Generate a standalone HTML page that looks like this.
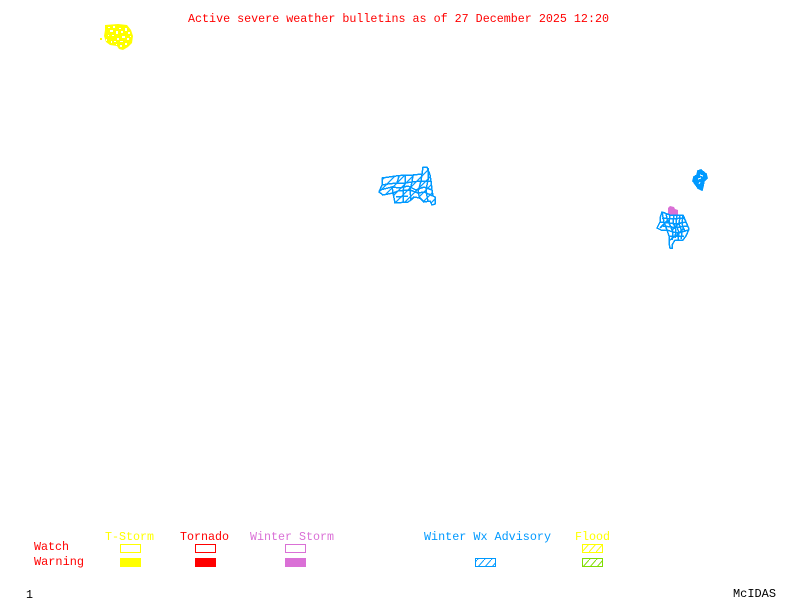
<!DOCTYPE html>
<html>
<head>
<meta charset="utf-8">
<style>
html,body{margin:0;padding:0;background:#fff;width:800px;height:600px;overflow:hidden}
svg{display:block}
text{font-family:"Liberation Mono",monospace;font-size:12px}
</style>
</head>
<body>
<svg width="800" height="600" viewBox="0 0 800 600" xmlns="http://www.w3.org/2000/svg">
<defs>
<pattern id="hb" width="9" height="9" patternUnits="userSpaceOnUse"><path d="M-1 5L5 -1M3 10L10 3" stroke="#0099ff" stroke-width="1.2" fill="none"/></pattern>
<pattern id="hy" width="7" height="8" patternUnits="userSpaceOnUse" patternTransform="translate(1 0)"><path d="M0 8L7 0" stroke="#ffff00" stroke-width="1" fill="none"/></pattern>
<pattern id="hg" width="7" height="8" patternUnits="userSpaceOnUse" patternTransform="translate(1 0)"><path d="M0 8L7 0" stroke="#7fdd00" stroke-width="1" fill="none"/></pattern>
<pattern id="hl" width="7" height="8" patternUnits="userSpaceOnUse" patternTransform="translate(1 0)"><path d="M0 8L7 0" stroke="#0099ff" stroke-width="1" fill="none"/></pattern>
</defs>

<text x="188" y="22" fill="#ff0000" textLength="421" lengthAdjust="spacingAndGlyphs">Active severe weather bulletins as of 27 December 2025 12:20</text>

<!-- yellow blob -->
<path d="M105 25L118 24L127 25L131 30L133 36L132 43L128 47L123 50L119 49L117 46L110 45L106 42L104 36L105 30Z" fill="#ffff00"/>
<rect x="100" y="38" width="2" height="2" fill="#ffff00"/>
<g fill="#fff">
<rect x="108" y="27" width="2" height="1"/><rect x="113" y="26" width="2" height="2"/><rect x="119" y="28" width="2" height="1"/>
<rect x="110" y="30" width="3" height="2"/><rect x="116" y="31" width="2" height="3"/><rect x="121" y="31" width="2" height="2"/>
<rect x="125" y="28" width="2" height="3"/><rect x="128" y="32" width="2" height="2"/><rect x="112" y="35" width="2" height="1"/>
<rect x="122" y="36" width="3" height="2"/><rect x="127" y="38" width="2" height="2"/><rect x="117" y="38" width="2" height="2"/>
<rect x="120" y="41" width="3" height="1"/><rect x="125" y="43" width="2" height="2"/><rect x="111" y="41" width="1" height="2"/>
<rect x="108" y="35" width="1" height="1"/><rect x="116" y="44" width="1" height="1"/><rect x="130" y="36" width="1" height="1"/>
<rect x="114" y="41" width="2" height="1"/><rect x="120" y="45" width="2" height="2"/><rect x="106" y="39" width="1" height="2"/>
</g>

<!-- central advisory area -->
<g fill="none" stroke="#0099ff" stroke-width="1.5" shape-rendering="crispEdges">
<path d="M382 178L396 176L405 175L413 175L422 174L423 167L427 167L430 175L431 181L432 190L433 196L435 197L435 204L432 205L430 201L424 202L420 198L414 197L411 200L408 202L395 203L393 193L383 195L379 192L382 185Z" fill="url(#hb)"/>
<path d="M382 185L388 184L397 183L405 183L412 182L421 181L431 181M380 190L392 187L400 188L408 186L416 190L424 187L432 190M393 193L398 191L410 190L418 193L424 192L433 196M397 183L399 176M405 176L405 184L403 190L403 202M413 175L412 182L410 190L411 200M422 174L421 181L418 192L420 199M428 168L428 180L426 190L428 202M392 186L393 193M396 197L408 196"/>
</g>

<!-- eastern small area -->
<g fill="none" stroke="#0099ff" stroke-width="1.6" shape-rendering="crispEdges">
<path d="M698 171L701 170L706 174L707 178L704 181L703 186L702 190L698 188L693 181L694 177L697 175Z" fill="#0099ff"/>
<path d="M700 175L703 176M698 179L701 178M699 184L700 182" stroke="#fff" stroke-width="1"/>
</g>

<!-- winter storm patch -->
<path d="M668 208L670 206L674 207L675 209L678 210L678 215L668 215Z" fill="#da70d6"/>

<!-- eastern large area -->
<g fill="none" stroke="#0099ff" stroke-width="1.5" shape-rendering="crispEdges">
<path d="M662 212L670 215L683 215L686 222L689 229L686 236L683 240L675 240L672 245L672 248L670 248L669 243L669 236L667 230L661 230L657 228L660 222L660 218Z"/>
<path d="M662 212L664 222L667 230M666 214L668 222M670 215L669 223L673 232L672 240M674 215L673 222L676 230L675 238M677 215L676 224L679 233L678 240M680 216L679 224L682 232L681 239M683 215L682 224L685 232M660 222L669 223L676 224L686 222M662 218L672 219L684 218M663 226L672 227L680 227L688 226M667 230L673 232L679 233L688 230M669 236L678 236L684 236M670 240L676 235M660 228L668 220M672 230L680 222M676 236L684 228"/>
</g>

<!-- legend labels -->
<text x="105" y="540" fill="#ffff00" textLength="49" lengthAdjust="spacingAndGlyphs">T-Storm</text>
<text x="180" y="540" fill="#ff0000" textLength="49" lengthAdjust="spacingAndGlyphs">Tornado</text>
<text x="250" y="540" fill="#da70d6" textLength="84" lengthAdjust="spacingAndGlyphs">Winter Storm</text>
<text x="424" y="540" fill="#0099ff" textLength="127" lengthAdjust="spacingAndGlyphs">Winter Wx Advisory</text>
<text x="575" y="540" fill="#ffff00" textLength="35" lengthAdjust="spacingAndGlyphs">Flood</text>
<text x="34" y="550" fill="#ff0000" textLength="35" lengthAdjust="spacingAndGlyphs">Watch</text>
<text x="34" y="565" fill="#ff0000" textLength="50" lengthAdjust="spacingAndGlyphs">Warning</text>

<!-- legend boxes -->
<g shape-rendering="crispEdges" stroke-width="1">
<rect x="120.5" y="544.5" width="20" height="8" fill="none" stroke="#ffff00"/>
<rect x="195.5" y="544.5" width="20" height="8" fill="none" stroke="#ff0000"/>
<rect x="285.5" y="544.5" width="20" height="8" fill="none" stroke="#da70d6"/>
<rect x="120" y="558" width="21" height="9" fill="#ffff00"/>
<rect x="195" y="558" width="21" height="9" fill="#ff0000"/>
<rect x="285" y="558" width="21" height="9" fill="#da70d6"/>
</g>
<g stroke-width="1">
<rect x="475.5" y="558.5" width="20" height="8" fill="url(#hl)" stroke="#0099ff"/>
<rect x="582.5" y="544.5" width="20" height="8" fill="url(#hy)" stroke="#ffff00"/>
<rect x="582.5" y="558.5" width="20" height="8" fill="url(#hg)" stroke="#7fdd00"/>
</g>

<text x="26" y="598" fill="#000" textLength="7" lengthAdjust="spacingAndGlyphs">1</text>
<text x="733" y="597" fill="#000" textLength="43" lengthAdjust="spacingAndGlyphs">McIDAS</text>
</svg>
</body>
</html>
